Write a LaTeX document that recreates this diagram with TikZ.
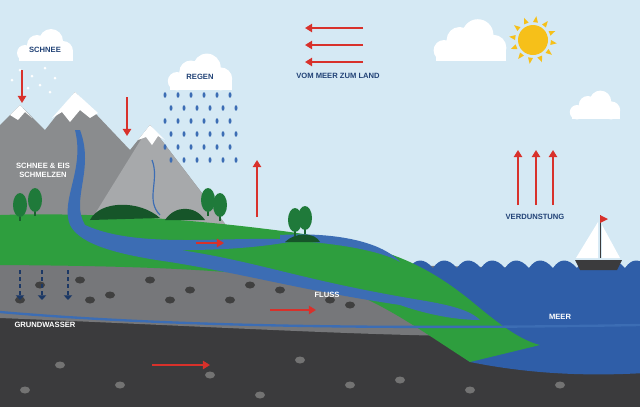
\documentclass[tikz,border=0pt]{standalone}
\usepackage{fontspec}
\setmainfont{Liberation Sans}
\usetikzlibrary{arrows.meta,calc}
\definecolor{sky}{HTML}{D5E9F4}
\definecolor{grass}{HTML}{2E9E3E}
\definecolor{rock}{HTML}{8A8C8E}
\definecolor{rockl}{HTML}{A7A9AB}
\definecolor{soil}{HTML}{76777A}
\definecolor{deep}{HTML}{3B3B3D}
\definecolor{sea}{HTML}{2F5EA8}
\definecolor{river}{HTML}{3C6DB4}
\definecolor{arr}{HTML}{D8312B}
\definecolor{tree}{HTML}{1F7A3A}
\definecolor{sun}{HTML}{F6C019}
\tikzset{
  lbl/.style={font=\bfseries\fontsize{6.5}{7.5}\selectfont, align=center},
  wl/.style={lbl, text=white},
  dl/.style={lbl, text=sea!70!black},
  ra/.style={draw=arr, line width=2pt, -{Triangle[length=6pt,width=7pt]}},
  cloud/.style={fill=white},
}
\begin{document}
\begin{tikzpicture}[x=0.03cm,y=-0.03cm]
\useasboundingbox (0,0) rectangle (640,407);
\clip (0,0) rectangle (640,407);
\fill[sky] (0,0) rectangle (640,407);
% deep layer
\fill[deep] (0,300) rectangle (640,407);
% soil layer
\fill[soil] (0,265) -- (390,265) -- (640,270) -- (640,330) .. controls (500,345) and (300,330) .. (0,318) -- cycle;
% stones in soil
\foreach \x/\y in {40/285,110/295,150/280,230/300,350/305,20/300,90/300,190/290,280/290,170/300,250/285,330/300,80/280,420/320,500/330}{
  \fill[black!75] (\x,\y) ellipse (5 and 3.5);
}
% sea
\fill[sea] (385,268) \foreach \i in {0,...,10}{ .. controls ({392+\i*24},258) and ({400+\i*24},258) .. ({409+\i*24},268)} -- (660,268) -- (660,372) .. controls (580,378) and (520,372) .. (470,362) -- (385,300) -- cycle;
% mountains
\fill[rock] (0,230) -- (0,125) -- (20,105) -- (45,130) -- (75,92) -- (130,150) -- (150,125) -- (215,210) -- (215,230) -- cycle;
\fill[rockl] (85,230) -- (150,125) -- (230,230) -- cycle;
\fill[white] (20,105) -- (10,115) -- (18,120) -- (25,112) -- (32,118) -- cycle;
\fill[white] (75,92) -- (52,118) -- (62,112) -- (70,122) -- (80,110) -- (90,118) -- (98,113) -- cycle;
\fill[white] (150,125) -- (138,140) -- (146,137) -- (152,145) -- (158,136) -- (165,140) -- cycle;
% green land
\fill[grass] (0,215) .. controls (100,212) and (200,220) .. (290,232) .. controls (380,245) and (420,260) .. (470,300) .. controls (500,325) and (520,340) .. (540,345) -- (470,362) .. controls (420,330) and (380,300) .. (330,285) .. controls (250,270) and (150,266) .. (0,265) -- cycle;
% river
\fill[river] (80,130) .. controls (95,170) and (70,200) .. (85,225) .. controls (140,250) and (230,235) .. (300,240) .. controls (250,250) and (200,250) .. (180,250) .. controls (260,262) and (300,280) .. (420,300) .. controls (450,305) and (470,310) .. (480,320) .. controls (450,320) and (420,312) .. (400,305) .. controls (300,290) and (250,275) .. (170,262) .. controls (120,255) and (80,245) .. (70,225) .. controls (60,200) and (85,170) .. (75,130) -- cycle;
\fill[river] (280,235) .. controls (330,232) and (380,240) .. (400,262) .. controls (380,250) and (330,242) .. (280,240) -- cycle;
\draw[river, line width=1pt] (152,160) .. controls (160,180) and (145,200) .. (160,215);
% underground river
\draw[river, line width=2pt] (0,312) .. controls (150,325) and (350,330) .. (640,325);
% trees and bushes
\fill[tree!70!black] (90,220) .. controls (100,200) and (140,200) .. (160,218) -- cycle;
\fill[tree!70!black] (165,220) .. controls (175,205) and (195,205) .. (205,220) -- cycle;
\fill[tree!70!black] (285,242) .. controls (295,232) and (315,232) .. (320,242) -- cycle;
\foreach \x/\y in {20/205, 35/200, 208/200, 220/205, 295/220, 305/218}{
  \fill[tree!80!black] ({\x-1},\y) rectangle ({\x+1},{\y+16});
  \fill[tree] (\x,\y) ellipse (7 and 12);
}
% stones deep
\foreach \x/\y in {60/365,120/385,210/375,300/360,400/380,560/385,25/390,260/395,350/385,470/390}{
  \fill[black!55] (\x,\y) ellipse (5 and 3.5);
}
% clouds
\foreach \cx/\cy/\s in {45/45/1, 200/72/1.15, 470/40/1.3, 595/105/0.9}{
  \begin{scope}[shift={(\cx,\cy)}, scale=\s]
  \fill[cloud] (-26,6) rectangle (28,16);
  \fill[cloud] (-20,8) circle (8) (-8,0) circle (10) (6,-4) circle (12) (18,6) circle (10);
  \end{scope}
}
% sun
\fill[sun] (533,40) circle (15);
\foreach \a in {0,30,...,330}{
  \fill[sun] ($(533,40)+(\a:18)$) -- ($(533,40)+({\a+8}:24)$) -- ($(533,40)+({\a+16}:18)$) -- cycle;
}
% snow & rain
\foreach \x/\y in {20/70,32/76,45/68,55/78,40/85,28/88,12/80,50/92}{\fill[white] (\x,\y) circle (1.5);}
\foreach \i in {0,...,5}{\foreach \j in {0,...,5}{
  \pgfmathsetmacro{\rx}{165+\i*13+mod(\j,2)*6}
  \pgfmathsetmacro{\ry}{95+\j*13}
  \fill[river] (\rx,\ry) ellipse (1.5 and 2.8);}}
% boat
\fill[deep] (575,260) -- (622,260) -- (617,270) -- (580,270) -- cycle;
\fill[white] (598,258) -- (598,222) -- (576,258) -- cycle;
\fill[white] (602,258) -- (602,225) -- (620,258) -- cycle;
\draw[deep, line width=0.8pt] (600,258) -- (600,215);
\fill[arr] (600,215) -- (608,219) -- (600,223) -- cycle;
% arrows
\coordinate (a1s) at (22,70); \coordinate (a1e) at (22,103);
\coordinate (a2s) at (127,97); \coordinate (a2e) at (127,136);
\coordinate (a3s) at (257,217); \coordinate (a3e) at (257,160);
\draw[ra] (a1s) -- (a1e);
\draw[ra] (a2s) -- (a2e);
\draw[ra] (a3s) -- (a3e);
\foreach \y in {28,45,62}{\draw[ra] (363,\y) -- (305,\y);}
\foreach \x in {518,536,553}{\draw[ra] (\x,205) -- (\x,150);}
\draw[ra] (196,243) -- (224,243);
\draw[ra] (270,310) -- (316,310);
\draw[ra] (152,365) -- (210,365);
% groundwater arrows
\foreach \x in {20,42,68}{\draw[sea!60!black, dashed, line width=1.2pt, -{Triangle[length=4pt]}] (\x,270) -- (\x,300);}
% labels
\node[dl] (t1) at (45,50) {SCHNEE};
\node[dl] (t2) at (200,77) {REGEN};
\node[dl] (t3) at (338,76) {VOM MEER ZUM LAND};
\node[wl] (t4) at (43,170) {SCHNEE \& EIS\\SCHMELZEN};
\node[dl] (t5) at (535,217) {VERDUNSTUNG};
\node[wl] (t6) at (327,295) {FLUSS};
\node[wl] (t7) at (560,317) {MEER};
\node[wl] (t8) at (45,325) {GRUNDWASSER};
\end{tikzpicture}
\end{document}
